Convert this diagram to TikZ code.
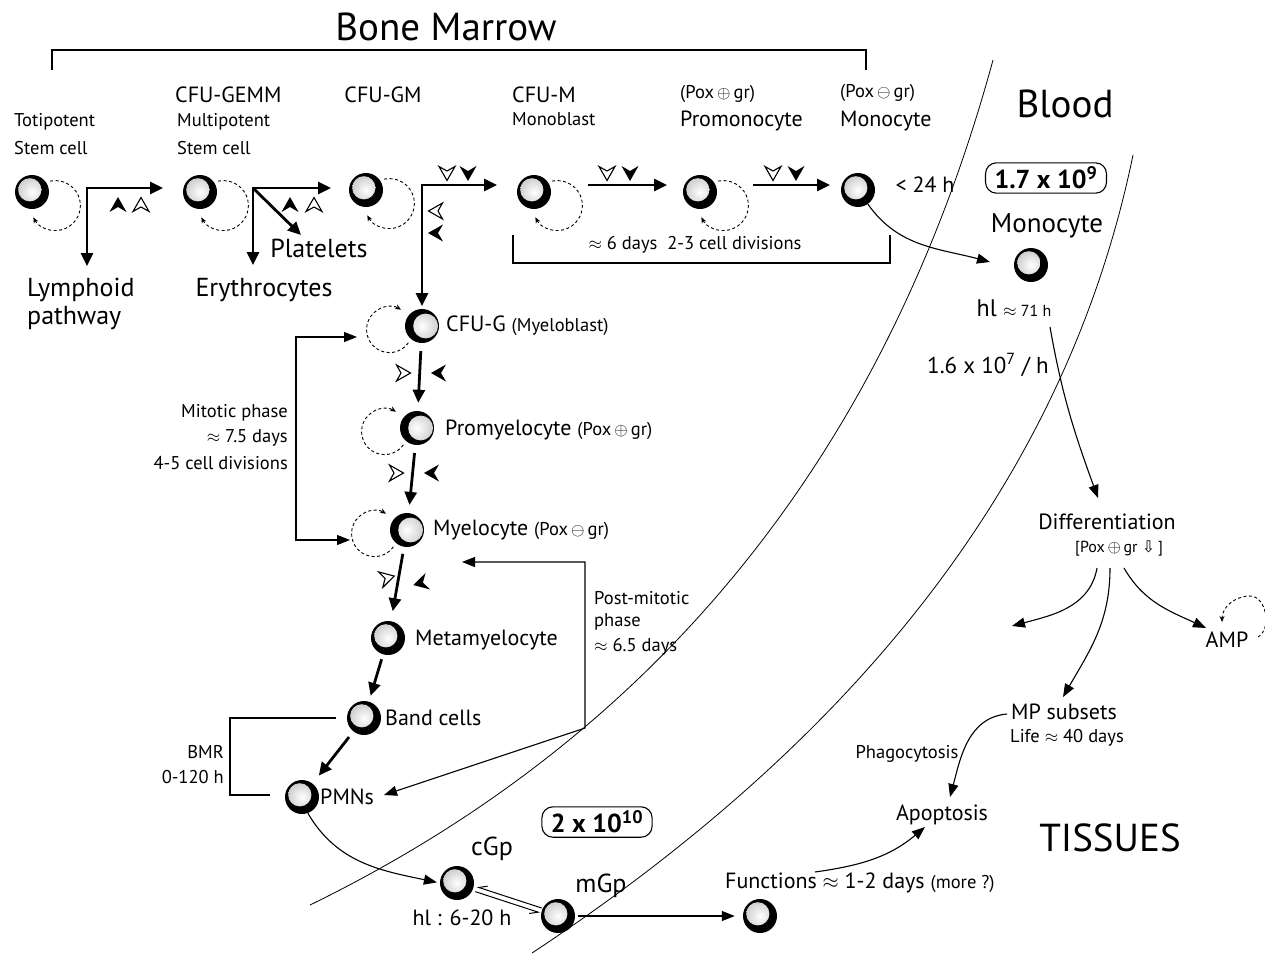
\documentclass[tikz,border=0pt]{standalone}
\usepackage{fontspec}
\setmainfont{PT Sans}
\newfontfamily\djv{DejaVu Sans}
\usetikzlibrary{arrows.meta,calc}
\newcommand\fsA{\fontsize{39}{42}\selectfont}
\newcommand\fsB{\fontsize{26}{30}\selectfont}
\newcommand\fsC{\fontsize{22}{25}\selectfont}
\newcommand\fsD{\fontsize{18.5}{21}\selectfont}
\newcommand\fsE{\fontsize{16}{18}\selectfont}
\newcommand\pplus{\,$\oplus$\,}
\newcommand\pminus{\,$\ominus$\,}
\begin{document}
\begin{tikzpicture}[x=1pt,y=1pt,
 every node/.style={inner sep=0pt},
 tarrow/.style={line width=2.8pt,-{Triangle[length=13pt,width=12pt]}},
 tboth/.style={line width=2.8pt,{Triangle[length=13pt,width=12pt]}-{Triangle[length=13pt,width=12pt]}},
 narrow/.style={line width=1.1pt,-{Triangle[length=13pt,width=10pt]}},
 nboth/.style={line width=1.1pt,{Triangle[length=13pt,width=10pt]}-{Triangle[length=13pt,width=10pt]}},
 harp/.style={line width=1pt,-{Straight Barb[harpoon,swap,length=8pt,width=8pt]}},
 brk/.style={line width=1.1pt},
 bnd/.style={line width=0.8pt},
 lp/.style={line width=0.9pt,dash pattern=on 3pt off 2.5pt,-{Stealth[length=6pt,width=5pt]}},
 cell/.style={circle,minimum size=34pt,fill=black,path picture={\shade[inner color=white,outer color=gray!45] ([shift={(-2.2pt,2.2pt)}]path picture bounding box.center) circle (11.6pt);}},
 cres/.style={circle,minimum size=34pt,fill=black,path picture={\shade[inner color=white,outer color=gray!40] ([shift={(3.6pt,0pt)}]path picture bounding box.center) circle (12.4pt);}},
 cbox/.style={draw,line width=1.1pt,rounded corners=11pt,inner xsep=9pt,inner ysep=4pt,font=\fsB\bfseries},
 gstep/.style={tarrow,shorten <=8pt,shorten >=8pt},
 chevf/.pic={\fill (0,8) -- (8.5,-7) -- (0,-2) -- (-8.5,-7) -- cycle;},
 chevo/.pic={\draw[line width=1.1pt,fill=white,line join=miter] (0,7.5) -- (8,-6.5) -- (0,-2) -- (-8,-6.5) -- cycle;},
]
\fill[white] (0,0) rectangle (1265,-953);
\useasboundingbox (0,0) rectangle (1265,-953);

% compartment boundaries
\draw[bnd] (993,-60) .. controls (885,-456) and (656,-736) .. (310,-905);
\draw[bnd] (1133,-155) .. controls (1069,-465) and (871,-729) .. (532,-953);

% Bone marrow title and bracket
\node[font=\fsA] (bmt) at (446,-27) {Bone Marrow};
\draw[brk] (52,-70) -- (52,-50) -- (866,-50) -- (866,-70);

% coordinates of cells
\coordinate (p1) at (32,-192);
\coordinate (p2) at (200,-192);
\coordinate (p3) at (366,-190);
\coordinate (p4) at (534,-192);
\coordinate (p5) at (700,-192);
\coordinate (pg) at (422,-326);
\coordinate (pp) at (417,-428);
\coordinate (pm) at (407,-530);

% self-renewal loops (drawn under the cells)
\foreach \p in {p1,p2,p3,p4,p5}{
  \draw[lp] ([shift={(18.2,10.9)}]\p) arc[start angle=102,end angle=-152,radius=25];
}
\foreach \p in {pg,pp,pm}{
  \draw[lp] ([shift={(-13.6,-16.8)}]\p) arc[start angle=-35,end angle=-300,radius=23];
}

% cells
\node[cell] (c1) at (p1) {};
\node[cell] (c2) at (p2) {};
\node[cell] (c3) at (p3) {};
\node[cell] (c4) at (p4) {};
\node[cell] (c5) at (p5) {};
\node[cell] (c6) at (858,-190) {};
\node[cell] (bmo) at (1031,-265) {};
\node[cres] (cfug) at (pg) {};
\node[cres] (prom) at (pp) {};
\node[cres] (myel) at (pm) {};
\node[cell] (meta) at (388,-638) {};
\node[cell] (band) at (364,-718) {};
\node[cell] (pmn) at (302,-797) {};
\node[cell] (cgp) at (457,-883) {};
\node[cell] (mgp) at (558,-916) {};
\node[cell] (fc) at (760,-916) {};

% top labels
\node[font=\fsD,anchor=west] (l1a) at (14,-122) {Totipotent};
\node[font=\fsD,anchor=west] (l1b) at (14,-148) {Stem cell};
\node[font=\fsC,anchor=west] (l2a) at (175,-95) {CFU-GEMM};
\node[font=\fsD,anchor=west] (l2b) at (177,-122) {Multipotent};
\node[font=\fsD,anchor=west] (l2c) at (177,-148) {Stem cell};
\node[font=\fsC] (l3) at (383,-95) {CFU-GM};
\node[font=\fsC,anchor=west] (l4a) at (512,-95) {CFU-M};
\node[font=\fsD,anchor=west] (l4b) at (512,-119) {Monoblast};
\node[font=\fsD,anchor=west] (l5a) at (680,-94) {(Pox\pplus gr)};
\node[font=\fsC,anchor=west] (l5b) at (680,-121) {Promonocyte};
\node[font=\fsD,anchor=west] (l6a) at (840,-93) {(Pox\pminus gr)};
\node[font=\fsC,anchor=west] (l6b) at (840,-121) {Monocyte};
\node[font=\fsC] (l24) at (925,-185) {< 24 h};

\node[font=\fsB,anchor=west] (lym1) at (27,-290) {Lymphoid};
\node[font=\fsB,anchor=west] (lym2) at (27,-318) {pathway};
\node[font=\fsB] (ery) at (264,-290) {Erythrocytes};
\node[font=\fsB] (plt) at (319,-248) {Platelets};

% top row arrows
\coordinate (k1) at (87,-188);
\coordinate (k1d) at (87,-266);
\coordinate (k1r) at (163,-188);
\draw[tboth] (k1d) -- (k1) -- (k1r);
\coordinate (k2) at (253,-188);
\coordinate (k2d) at (253,-265);
\coordinate (k2r) at (331,-188);
\coordinate (k2p) at (301,-235);
\draw[tboth] (k2d) -- (k2) -- (k2r);
\draw[tarrow] (k2) -- (k2p);
\coordinate (k3) at (422,-185);
\coordinate (k3d) at (422,-306);
\coordinate (k3r) at (497,-185);
\draw[tboth] (k3d) -- (k3) -- (k3r);
\coordinate (k4a) at (588,-185);
\coordinate (k4b) at (667,-185);
\draw[tarrow] (k4a) -- (k4b);
\coordinate (k5a) at (753,-185);
\coordinate (k5b) at (830,-185);
\draw[tarrow] (k5a) -- (k5b);

% chevrons
\pic at (118,-205) {chevf}; \pic at (141,-205) {chevo};
\pic at (290,-205) {chevf}; \pic at (314,-205) {chevo};
\pic[rotate=180] at (447,-173) {chevo}; \pic[rotate=180] at (468,-173) {chevf};
\pic[rotate=90] at (436,-211) {chevo}; \pic[rotate=90] at (436,-233) {chevf};
\pic[rotate=180] at (607,-173) {chevo}; \pic[rotate=180] at (630,-173) {chevf};
\pic[rotate=180] at (773,-173) {chevo}; \pic[rotate=180] at (796,-173) {chevf};
\pic[rotate=-90] at (403,-373) {chevo}; \pic[rotate=90] at (439,-373) {chevf};
\pic[rotate=-90] at (396,-473) {chevo}; \pic[rotate=90] at (432,-473) {chevf};
\pic[rotate=-75] at (387,-578) {chevo}; \pic[rotate=105] at (421,-583) {chevf};

% monocyte bracket
\draw[brk] (513,-235) -- (513,-263) -- (890,-263) -- (890,-235);
\node[font=\fsD] (l6d) at (695,-245) {$\approx$ 6 days\ \ 2-3 cell divisions};

% granulocyte column
\node[font=\fsC,anchor=west] (lg) at (446,-326) {CFU-G {\fsD (Myeloblast)}};
\node[font=\fsC,anchor=west] (lp) at (445,-430) {Promyelocyte {\fsD (Pox\pplus gr)}};
\node[font=\fsC,anchor=west] (lm) at (433,-530) {Myelocyte {\fsD (Pox\pminus gr)}};
\node[font=\fsC,anchor=west] (lmeta) at (415,-640) {Metamyelocyte};
\node[font=\fsC,anchor=west] (lband) at (385,-718) {Band cells};
\node[font=\fsC,anchor=west] (lpmn) at (320,-797) {PMNs};

\draw[gstep] (cfug) -- (prom);
\draw[gstep] (prom) -- (myel);
\draw[tarrow,shorten <=7pt,shorten >=10pt] (myel) -- (meta);
\draw[tarrow,shorten <=5pt,shorten >=6pt] (meta) -- (band);
\draw[tarrow,shorten <=7pt,shorten >=10pt] (band) -- (pmn);

% mitotic phase
\coordinate (m1) at (357,-337);
\coordinate (m2) at (296,-337);
\coordinate (m3) at (296,-540);
\coordinate (m4) at (350,-540);
\draw[nboth] (m1) -- (m2) -- (m3) -- (m4);
\node[font=\fsD,anchor=east] (mt1) at (288,-413) {Mitotic phase};
\node[font=\fsD,anchor=east] (mt2) at (288,-438) {$\approx$ 7.5 days};
\node[font=\fsD,anchor=east] (mt3) at (288,-463) {4-5 cell divisions};

% post-mitotic phase
\coordinate (q1) at (462,-562);
\coordinate (q2) at (585,-562);
\coordinate (q3) at (585,-728);
\coordinate (q4) at (384,-795);
\draw[nboth] (q1) -- (q2) -- (q3) -- (q4);
\node[font=\fsD,anchor=west] (pt1) at (594,-598) {Post-mitotic};
\node[font=\fsD,anchor=west] (pt2) at (594,-622) {phase};
\node[font=\fsD,anchor=west] (pt3) at (594,-647) {$\approx$ 6.5 days};

% BMR
\draw[brk] (336,-718) -- (230,-718) -- (230,-795) -- (270,-795);
\node[font=\fsD,anchor=east] (bmr1) at (224,-752) {BMR};
\node[font=\fsD,anchor=east] (bmr2) at (224,-777) {0-120 h};

% marginal pool
\draw[narrow,shorten >=3pt] (pmn.-70) to[out=-60,in=168] (cgp.west);
\node[font=\fsB] (lcgp) at (492,-849) {cGp};
\node[font=\fsB] (lmgp) at (601,-886) {mGp};
\node[font=\fsC] (lhl) at (462,-918) {hl : 6-20 h};
\node[cbox] (n20) at (597,-822) {2 x 10\textsuperscript{10}};
\draw[harp] ($(mgp.center)!18pt!(cgp.center)+(0.8,2.4)$) -- ($(cgp.center)!20pt!(mgp.center)+(0.8,2.4)$);
\draw[harp] ($(cgp.center)!20pt!(mgp.center)-(0.8,2.4)$) -- ($(mgp.center)!18pt!(cgp.center)-(0.8,2.4)$);
\draw[narrow,shorten <=3pt,shorten >=8pt] (mgp.east) -- (fc.west);

\node[font=\fsC,anchor=west] (fun) at (725,-883) {Functions $\approx$ 1-2 days {\fsD (more ?)}};
\coordinate (f1) at (815,-872);
\coordinate (f2) at (925,-827);
\draw[narrow] (f1) to[out=8,in=-140] (f2);

% blood
\node[font=\fsA] (blood) at (1065,-104) {Blood};
\node[cbox] (n17) at (1046,-178) {1.7 x 10\textsuperscript{9}};
\node[font=\fontsize{27}{30}\selectfont] (lbmo) at (1047,-226) {Monocyte};
\node[font=\fontsize{24}{28}\selectfont] (lhl2) at (1014,-308) {hl {\fsE $\approx$ 71 h}};
\coordinate (b1) at (990,-262);
\draw[narrow] (c6.-55) to[out=-55,in=165] (b1);
\node[font=\fontsize{23}{26}\selectfont,anchor=west] (rate) at (927,-365) {1.6 x 10\textsuperscript{7} / h};
\coordinate (b2) at (1050,-327);
\coordinate (b3) at (1098,-498);
\draw[narrow] (b2) to[out=-80,in=110] (b3);

% tissues
\node[font=\fsC] (diff) at (1107,-522) {Differentiation};
\node[font=\fsE,anchor=west] (poxd) at (1075,-548) {[Pox\pplus gr {\djv ⇩}\,]};
\coordinate (d1) at (1097,-568);
\coordinate (d2) at (1110,-568);
\coordinate (d3) at (1124,-568);
\coordinate (e1) at (1012,-626);
\coordinate (e2) at (1063,-697);
\coordinate (e3) at (1206,-628);
\draw[narrow] (d1) to[out=-100,in=15] (e1);
\draw[narrow] (d2) to[out=-90,in=60] (e2);
\draw[narrow] (d3) to[out=-60,in=155] (e3);
\node[font=\fsC] (amp) at (1227,-640) {AMP};
\coordinate (a1) at (1258,-637);
\coordinate (a2) at (1250,-596);
\coordinate (a3) at (1222,-622);
\draw[lp] (a1) to[out=30,in=0] (a2) to[out=180,in=90] (a3);

\node[font=\fsC] (mps) at (1064,-712) {MP subsets};
\node[font=\fsD] (life) at (1067,-738) {Life $\approx$ 40 days};
\node[font=\fsD] (phag) at (907,-754) {Phagocytosis};
\node[font=\fsC] (apo) at (942,-815) {Apoptosis};
\coordinate (g1) at (1007,-714);
\coordinate (g2) at (950,-797);
\draw[narrow] (g1) to[out=185,in=75] (g2);
\node[font=\fsA] (tis) at (1110,-838) {TISSUES};
\end{tikzpicture}
\end{document}
